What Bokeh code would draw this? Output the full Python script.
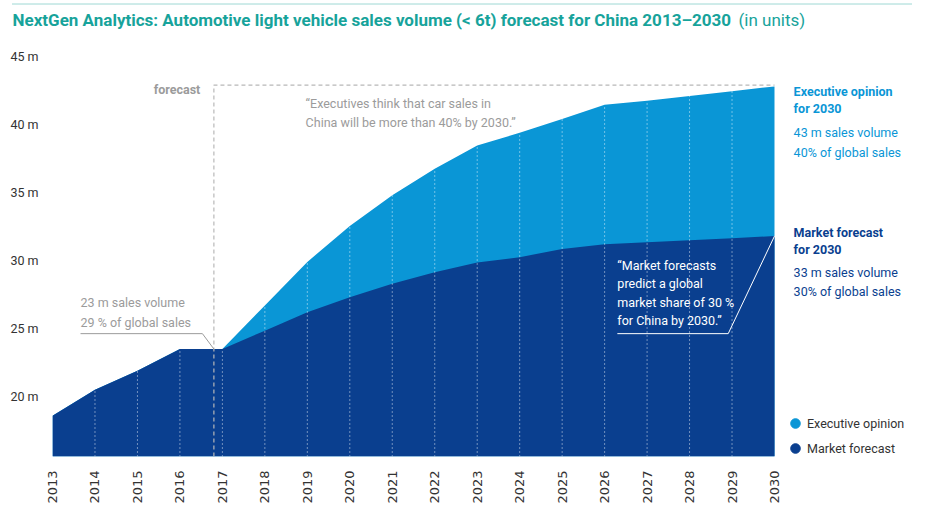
import math
from bokeh.plotting import figure
from bokeh.layouts import column
from bokeh.models import Label, FixedTicker, Range1d, Legend, LegendItem
from bokeh.embed import file_html
from bokeh.resources import INLINE

# ---- data -------------------------------------------------------------
years = list(range(2013, 2031))
year_labels = [str(y) for y in years]
market_forecast = [18.6, 20.5, 21.9, 23.5, 23.5, 24.85, 26.2, 27.3, 28.3, 29.15,
                   29.85, 30.25, 30.85, 31.2, 31.35, 31.5, 31.65, 31.8]
executive_opinion = [18.6, 20.5, 21.9, 23.5, 23.5, 26.7, 29.9, 32.55, 34.8, 36.75,
                     38.45, 39.4, 40.4, 41.45, 41.75, 42.1, 42.45, 42.8]
y_ticks = [20, 25, 30, 35, 40, 45]
y_tick_labels = ["20 m", "25 m", "30 m", "35 m", "40 m", "45 m"]
series_names = ["Executive opinion", "Market forecast"]
forecast_start = 2016.8
forecast_top = 42.9

# ---- style ------------------------------------------------------------
DARK = "#0a3f8f"
LIGHT = "#0a96d6"
TEAL = "#17a39b"
RULE = "#3fb0a8"
GRAY = "#9b9b9b"
TEXT = "#333333"
FONT = "Roboto"
Y0 = 15.6
W = 917
PX_PER_YEAR = 722 / 17
FRAME_W = W - 52
FRAME_H = 400


def bare(height):
    f = figure(width=W, height=height, x_range=Range1d(0, W), y_range=Range1d(0, height),
               output_backend="svg", toolbar_location=None,
               x_axis_type=None, y_axis_type=None,
               min_border_left=0, min_border_right=0, min_border_top=0, min_border_bottom=0)
    f.outline_line_color = None
    f.grid.visible = False
    f.frame_align = False
    return f


# ---- title strip --------------------------------------------------------
head = bare(40)
head.line(x=[12, 912], y=[36.5, 36.5], line_color=RULE, line_dash="1 1", line_width=1)
head.add_layout(Label(x=12, y=21, text="NextGen Analytics: Automotive light vehicle sales volume (< 6t) forecast for China 2013\u20132030",
                      text_color=TEAL, text_font=FONT, text_font_size="17px",
                      text_font_style="bold", text_baseline="middle"))
head.add_layout(Label(x=738, y=21, text="(in units)", text_color=TEAL, text_font=FONT,
                      text_font_size="17px", text_baseline="middle"))

# ---- main chart ---------------------------------------------------------
p = figure(frame_width=FRAME_W, frame_height=FRAME_H,
           x_range=Range1d(2013, 2013 + FRAME_W / PX_PER_YEAR),
           y_range=Range1d(Y0, 45),
           output_backend="svg", toolbar_location=None,
           min_border_left=52, min_border_right=0,
           min_border_top=16, min_border_bottom=56)
p.frame_align = False
p.outline_line_color = None
p.grid.visible = False
p.background_fill_color = "white"
p.border_fill_color = "white"

# areas
p.varea(x=years, y1=Y0, y2=executive_opinion, fill_color=LIGHT)
p.varea(x=years, y1=Y0, y2=market_forecast, fill_color=DARK)

# white dotted year lines
inner = years[1:-1]
p.segment(x0=inner, y0=[Y0] * len(inner), x1=inner, y1=executive_opinion[1:-1],
          line_color="white", line_dash="1 3", line_width=1, line_alpha=0.85)

# forecast box
p.line(x=[forecast_start, forecast_start, years[-1]], y=[Y0, forecast_top, forecast_top],
       line_color="#b8b8b8", line_dash="4 3", line_width=1.2)

# leader lines
p.line(x=[2013.66, 2016.53, forecast_start], y=[24.63, 24.63, 23.5],
       line_color=GRAY, line_width=1)
p.line(x=[2026.3, 2028.91, years[-1]], y=[24.63, 24.63, market_forecast[-1]],
       line_color="white", line_width=1)

# axes
p.yaxis.ticker = FixedTicker(ticks=y_ticks)
p.yaxis.major_label_overrides = dict(zip(y_ticks, y_tick_labels))
p.xaxis.ticker = FixedTicker(ticks=years)
p.xaxis.major_label_overrides = dict(zip(years, year_labels))
p.xaxis.major_label_orientation = math.pi / 2
for ax in (p.xaxis, p.yaxis):
    ax.axis_line_color = None
    ax.major_tick_line_color = None
    ax.minor_tick_line_color = None
    ax.major_label_text_color = TEXT
    ax.major_label_standoff = 8
p.yaxis.major_label_text_font = FONT
p.yaxis.major_label_text_font_size = "12.5px"
p.xaxis.major_label_text_font = "DejaVu Sans"
p.xaxis.major_label_text_font_size = "13px"


def lab(x, y, text, color, size="12.5px", bold=False, align="left"):
    p.add_layout(Label(x=x, y=y, text=text, text_color=color, text_font=FONT,
                       text_font_size=size, text_align=align, text_baseline="middle",
                       text_font_style="bold" if bold else "normal"))


# annotations
lab(2016.48, 42.57, "forecast", GRAY, bold=True, align="right")
lab(2018.96, 41.54, "\u201cExecutives think that car sales in", GRAY)
lab(2018.96, 40.15, "China will be more than 40%  by 2030.\u201d", GRAY)
lab(2013.66, 26.91, "23 m sales volume", GRAY)
lab(2013.66, 25.44, "29 % of global sales", GRAY)
for yy, t in zip([29.63, 28.31, 26.91, 25.59],
                 ["\u201cMarket forecasts", "predict a global",
                  "market share of 30 %", "for China by 2030.\u201d"]):
    lab(2026.3, yy, t, "white")

# right-side texts
lab(2030.45, 42.43, "Executive opinion", LIGHT, bold=True)
lab(2030.45, 41.18, "for 2030", LIGHT, bold=True)
lab(2030.45, 39.41, "43 m sales volume", LIGHT)
lab(2030.45, 37.94, "40% of global sales", LIGHT)
lab(2030.45, 32.06, "Market forecast", DARK, bold=True)
lab(2030.45, 30.81, "for 2030", DARK, bold=True)
lab(2030.45, 29.12, "33 m sales volume", DARK)
lab(2030.45, 27.72, "30% of global sales", DARK)

# legend (zero-size markers only carry the legend swatches)
r1 = p.scatter(x=years, y=executive_opinion, marker="circle", size=0,
               fill_color=LIGHT, line_color=LIGHT)
r2 = p.scatter(x=years, y=market_forecast, marker="circle", size=0,
               fill_color=DARK, line_color=DARK)
legend = Legend(items=[LegendItem(label=series_names[0], renderers=[r1]),
                       LegendItem(label=series_names[1], renderers=[r2])],
                location=(731, -4), glyph_width=24, glyph_height=24, spacing=1,
                padding=0, margin=0, label_standoff=-6, border_line_color=None,
                background_fill_alpha=0, label_text_font=FONT,
                label_text_font_size="12.5px", label_text_color=TEXT)
p.add_layout(legend)

# ---- footer strip -------------------------------------------------------
foot = bare(6)
foot.line(x=[12, 912], y=[2.5, 2.5], line_color=RULE, line_dash="1 1", line_width=1)

layout = column(head, p, foot, spacing=0)
open("out.html", "w").write(file_html(layout, INLINE))
